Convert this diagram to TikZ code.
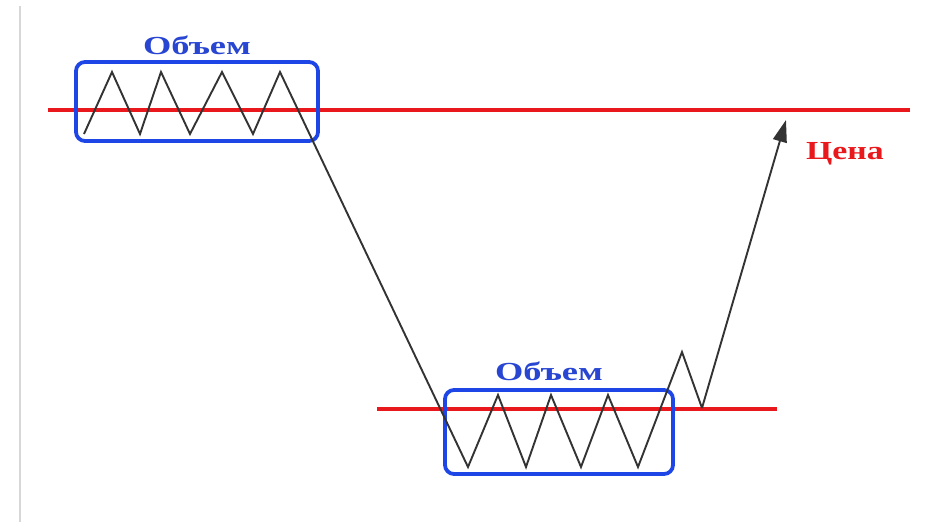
\documentclass[tikz,border=0pt]{standalone}
\usepackage{fontspec}
\setmainfont{Liberation Serif}
\usetikzlibrary{arrows.meta}
\definecolor{pricered}{RGB}{232,24,28}
\definecolor{volblue}{RGB}{30,70,230}
\definecolor{lblblue}{RGB}{40,70,210}
\definecolor{framegray}{RGB}{215,215,215}
\tikzset{
  priceline/.style={draw=pricered,line width=4pt},
  volbox/.style={draw=volblue,line width=3.8pt,rounded corners=9pt},
  pathline/.style={draw=black!80,line width=1.9pt,line join=miter},
  vollabel/.style={text=lblblue,font=\bfseries\fontsize{26}{28}\selectfont},
  pricelabel/.style={text=pricered,font=\bfseries\fontsize{26}{28}\selectfont}
}
\begin{document}
\begin{tikzpicture}[x=1pt,y=-1pt]
\useasboundingbox[fill=white] (0,0) rectangle (935,522);
\draw[framegray,line width=1.5pt] (20,6) -- (20,522);
% price lines
\draw[priceline] (48,110) -- (910,110);
\draw[priceline] (377,409) -- (777,409);
% volume boxes
\draw[volbox] (76,62) rectangle (318,141);
\draw[volbox] (445,390) rectangle (673,474);
% zigzag path
\coordinate (s) at (84,134);
\coordinate (p1) at (112,72);
\coordinate (t1) at (140,134);
\coordinate (p2) at (161,72);
\coordinate (t2) at (190,134);
\coordinate (p3) at (222,72);
\coordinate (t3) at (253,134);
\coordinate (p4) at (280,72);
\coordinate (b1) at (468,467);
\coordinate (q1) at (498,395);
\coordinate (b2) at (526,467);
\coordinate (q2) at (551,395);
\coordinate (b3) at (581,467);
\coordinate (q3) at (608,395);
\coordinate (b4) at (638,467);
\coordinate (q4) at (682,352);
\coordinate (b5) at (702,408);
\coordinate (e) at (786,120);
\draw[pathline] (s) -- (p1) -- (t1) -- (p2) -- (t2) -- (p3) -- (t3) -- (p4) -- (b1)
  -- (q1) -- (b2) -- (q2) -- (b3) -- (q3) -- (b4) -- (q4) -- (b5);
\draw[pathline,-{Triangle[length=22pt,width=14pt]}] (b5) -- (e);
% labels
\node[vollabel] (v1) at (197,45) {\scalebox{1.4}[1]{Объем}};
\node[vollabel] (v2) at (549,371) {\scalebox{1.4}[1]{Объем}};
\node[pricelabel] (pr) at (845,154) {\scalebox{1.3}[1]{Цена}};
\end{tikzpicture}
\end{document}
